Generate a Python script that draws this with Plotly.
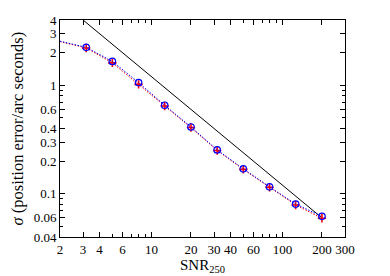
import plotly.graph_objects as go

snr = [2.0, 3.17, 5.02, 7.96, 12.6, 20.0, 31.7, 50.2, 79.6, 126.0, 200.0]
sigma_blue = [2.55, 2.24, 1.66, 1.06, 0.655, 0.413, 0.254, 0.170, 0.116, 0.0805, 0.062]
sigma_red = [2.53, 2.21, 1.61, 1.02, 0.645, 0.408, 0.251, 0.168, 0.115, 0.079, 0.0595]
line_snr = [3.0, 200.0]
line_sigma = [4.0, 0.06]

x_ticks = [2, 3, 4, 6, 10, 20, 30, 40, 60, 100, 200, 300]
x_minor = [5, 7, 8, 9, 50, 70, 80, 90]
y_ticks = [0.04, 0.06, 0.1, 0.2, 0.3, 0.4, 0.6, 1, 2, 3, 4]
y_minor = [0.05, 0.07, 0.08, 0.09, 0.5, 0.7, 0.8, 0.9]

font = "Liberation Serif"

fig = go.Figure()
fig.add_trace(go.Scatter(x=line_snr, y=line_sigma, mode="lines",
                         line=dict(color="black", width=1), showlegend=False))
fig.add_trace(go.Scatter(x=snr, y=sigma_red, mode="lines+markers",
                         line=dict(color="red", width=1, dash="1.5px,1.5px"),
                         marker=dict(symbol="cross-thin-open", size=6,
                                     line=dict(color="red", width=1.6)),
                         showlegend=False, cliponaxis=False))
fig.add_trace(go.Scatter(x=snr, y=sigma_blue, mode="lines+markers",
                         line=dict(color="blue", width=1, dash="1.5px,1.5px"),
                         marker=dict(symbol="circle-open", size=6.5,
                                     line=dict(color="blue", width=1.2)),
                         showlegend=False, cliponaxis=False))

axis_common = dict(showgrid=False, zeroline=False, showline=True, linecolor="black",
                   linewidth=1, mirror="allticks", ticks="inside", ticklen=5,
                   tickcolor="black", tickwidth=1, automargin=False,
                   tickfont=dict(family=font, size=13, color="black"))

fig.update_xaxes(type="log", range=[0.30103, 2.47712], tickmode="array",
                 tickvals=x_ticks, ticktext=[str(v) for v in x_ticks],
                 minor=dict(tickmode="array", tickvals=x_minor, ticks="inside",
                            ticklen=3, tickcolor="black"),
                 **axis_common)
fig.update_yaxes(type="log", range=[-1.39794, 0.60206], tickmode="array",
                 tickvals=y_ticks, ticktext=[str(v) for v in y_ticks],
                 minor=dict(tickmode="array", tickvals=y_minor, ticks="inside",
                            ticklen=3, tickcolor="black"),
                 **axis_common)

fig.add_annotation(text="SNR<sub>250</sub>", xref="paper", yref="paper",
                   x=0.5, y=0, yshift=-29, xanchor="center", yanchor="middle",
                   showarrow=False, font=dict(family=font, size=15, color="black"))
fig.add_annotation(text="<i>σ</i> (position error/arc seconds)", xref="paper", yref="paper",
                   x=0, y=0.5, xshift=-43, xanchor="center", yanchor="middle", textangle=-90,
                   showarrow=False, font=dict(family=font, size=16.5, color="black"))

fig.update_layout(width=382, height=268, margin=dict(l=52, r=45, t=12, b=39),
                  plot_bgcolor="white", paper_bgcolor="white")
fig.write_html("out.html")
